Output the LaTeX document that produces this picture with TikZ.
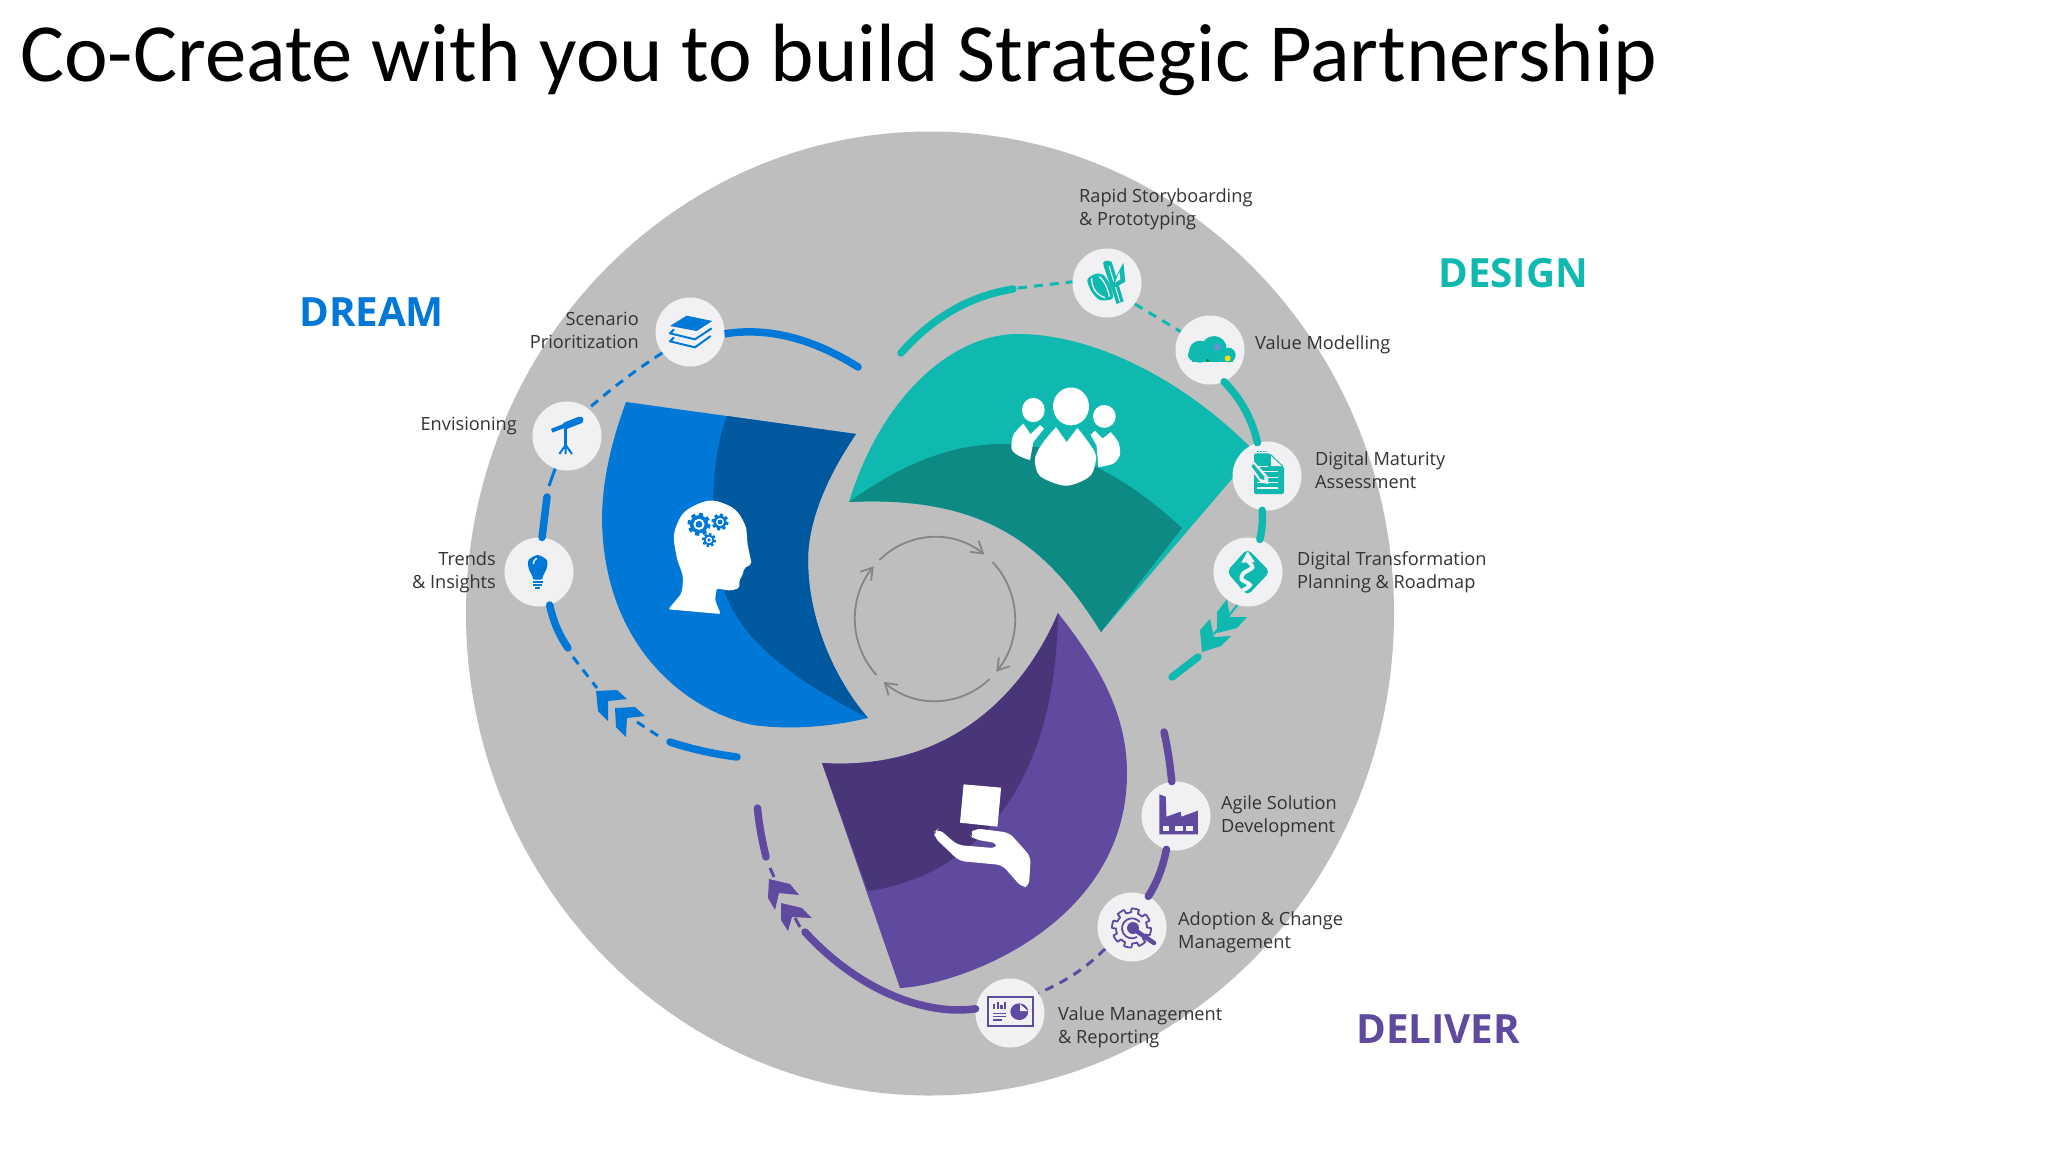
\documentclass[tikz,border=0pt]{standalone}
\usepackage{fontspec}
\setmainfont{Open Sans}
\newfontfamily\titlefont{Carlito}
\definecolor{bggray}{HTML}{BFBEBF}
\definecolor{cblue}{HTML}{0078D7}
\definecolor{dblue}{HTML}{00589F}
\definecolor{cteal}{HTML}{10B9B0}
\definecolor{dteal}{HTML}{0D8A84}
\definecolor{cpurp}{HTML}{5F4A9F}
\definecolor{dpurp}{HTML}{4A3578}
\definecolor{disccol}{HTML}{F1F1F3}
\definecolor{ltext}{HTML}{333333}
\definecolor{ringgray}{HTML}{858585}
\usetikzlibrary{arrows.meta}
\tikzset{
  x=1pt,y=-1pt,
  discnode/.style={circle,fill=disccol,minimum size=69pt,inner sep=0pt},
  lab/.style={text=ltext,font=\fontsize{18.2}{23}\selectfont,inner sep=0pt},
  labl/.style={lab,anchor=west,align=left},
  labr/.style={lab,anchor=east,align=right},
  head/.style={font=\bfseries\fontsize{40.3}{48}\selectfont,inner sep=0pt,anchor=west},
  solidarc/.style={line width=7.5pt,line cap=round},
  dasharc/.style={line width=3pt,dash pattern=on 9pt off 7pt},
  cyc/.style={draw=ringgray,line width=1.8pt,-{Straight Barb[length=11pt,width=14pt,line width=1.8pt]}},
  zb/.style={shift={(500,260)},xscale=0.33333,yscale=0.33333},
  zt/.style={shift={(820,160)},xscale=0.33333,yscale=0.35714},
  zp/.style={shift={(720,600)},xscale=0.35714,yscale=0.33333},
  zr/.style={shift={(1060,230)},xscale=0.33333,yscale=0.33333},
  zd/.style={shift={(1210,430)},xscale=0.33333,yscale=0.33333},
}
\newcommand{\gearshape}[5]{% x y outer inner color
  \fill[#5] plot[domain=0:360,samples=193] ({#1+(#4+(#3-#4)*max(0,sign(sin(8*\x)+0.1)))*cos(\x)},{#2+(#4+(#3-#4)*max(0,sign(sin(8*\x)+0.1)))*sin(\x)}) -- cycle;
  \fill[white] (#1,#2) circle[radius=#4*0.62];
  \fill[#5] (#1,#2) circle[radius=#4*0.38];
}
\begin{document}
\begin{tikzpicture}
\useasboundingbox (0,0) rectangle (2048,1152);
\fill[white] (0,0) rectangle (2048,1152);
\fill[bggray] (930,613.5) ellipse [x radius=464,y radius=482];

% ---- petals
\fill[cblue] (626,402) -- (856,434)
  .. controls (828,475) and (808,520) .. (808,560)
  .. controls (808,620) and (835,680) .. (868,718)
  .. controls (830,727) and (790,730) .. (753,725)
  .. controls (690,712) and (604,650) .. (602,520)
  .. controls (602,480) and (612,440) .. (626,402) -- cycle;
\fill[dblue] (727,416) -- (856,434)
  .. controls (828,475) and (808,520) .. (808,560)
  .. controls (808,620) and (835,680) .. (868,718)
  .. controls (795,680) and (735,640) .. (720,577)
  .. controls (708,520) and (712,455) .. (727,416) -- cycle;
\fill[cteal] (849,502)
  .. controls (880,400) and (950,333) .. (1020,334)
  .. controls (1100,335) and (1190,385) .. (1255,452)
  -- (1101,632)
  .. controls (1050,550) and (990,495) .. (849,502) -- cycle;
\fill[dteal] (849,502)
  .. controls (900,465) and (950,444) .. (1003,444)
  .. controls (1070,444) and (1130,480) .. (1182,528)
  -- (1101,632)
  .. controls (1050,550) and (990,495) .. (849,502) -- cycle;
\fill[cpurp] (822,763) -- (900,988)
  .. controls (960,985) and (1127,925) .. (1127,773)
  .. controls (1127,710) and (1095,660) .. (1058,613)
  .. controls (1030,680) and (960,772) .. (822,763) -- cycle;
\fill[dpurp] (822,763) -- (868,891)
  .. controls (980,875) and (1056,780) .. (1058,613)
  .. controls (1030,680) and (960,772) .. (822,763) -- cycle;

% ---- centre cycle
\coordinate (cc) at (935,619);
\tikzset{cycarc/.style={x radius=80,y radius=82}}
\draw[cyc] (cc) ++(-55.6,-59) arc[start angle=-134,end angle=-52,cycarc];
\draw[cyc] (cc) ++(57.5,-57) arc[start angle=-44,end angle=40,cycarc];
\draw[cyc] (cc) ++(54.6,60) arc[start angle=47,end angle=130,cycarc];
\draw[cyc] (cc) ++(-58.5,56) arc[start angle=137,end angle=220,cycarc];

% ---- discs
\node[discnode] (scen) at (690,332) {};
\node[discnode] (envi) at (567,436) {};
\node[discnode] (tren) at (539,572) {};
\node[discnode] (rapi) at (1107,283) {};
\node[discnode] (valu) at (1210,350) {};
\node[discnode] (digm) at (1267,476) {};
\node[discnode] (digt) at (1248,572) {};
\node[discnode] (agil) at (1176,816) {};
\node[discnode] (adop) at (1132,927) {};
\node[discnode] (vmgt) at (1010,1013) {};

% ---- blue ring
\coordinate (b1) at (858,367);
\coordinate (b4) at (549,486);
\coordinate (b5) at (547,497);
\coordinate (b6) at (568,648);
\coordinate (b7) at (573,657);
\coordinate (b8) at (597,688);
\coordinate (b9) at (637,722);
\coordinate (b10) at (660,737);
\coordinate (b11) at (670,742);
\coordinate (b12) at (737,757);
\draw[cblue,solidarc,line cap=butt] (scen.-3) .. controls (767,327) and (812,338) .. (b1);
\fill[cblue] (b1) circle[radius=3.75];
\draw[cblue,dasharc] (scen.217) .. controls (642,366) and (619,382) .. (envi.52);
\draw[cblue,line width=3pt] (envi.250) -- (b4);
\draw[cblue,solidarc] (b5) -- (tren.85);
\draw[cblue,solidarc] (tren.-72) .. controls (553,621) and (559,635) .. (b6);
\draw[cblue,dasharc] (b7) -- (b8);
\draw[cblue,dasharc] (b9) -- (b10);
\draw[cblue,solidarc] (b11) .. controls (691,749) and (714,754) .. (b12);
\fill[cblue] (596,691) -- (617,690) -- (627,699) -- (608,701) -- (608,721) -- (598,711) -- cycle;
\fill[cblue] (615,708) -- (635,707) -- (645,716) -- (627,718) -- (626,737) -- (616,727) -- cycle;

% ---- teal ring
\coordinate (t1) at (901,353);
\coordinate (t2) at (1013,289);
\coordinate (t3) at (1018,288);
\coordinate (t4) at (1198,657);
\coordinate (t5) at (1172,677);
\coordinate (t6) at (1214,634);
\draw[cteal,solidarc] (t1) .. controls (933,317) and (970,296) .. (t2);
\draw[cteal,dasharc] (t3) -- (rapi.178);
\draw[cteal,dasharc] (rapi.-37) -- (valu.148);
\draw[cteal,solidarc] (valu.-66) .. controls (1241,399) and (1252,419) .. (digm.106);
\draw[cteal,solidarc] (digm.-98) .. controls (1263,520) and (1262,530) .. (digt.70);
\draw[cteal,line width=2pt] (digt.-108) -- (t6);
\fill[cteal] (1200,630) -- (1210,619) -- (1214,637) -- (1231,636) -- (1221,646) -- (1202,652) -- cycle;
\fill[cteal] (1217,612) -- (1227,599) -- (1230,617) -- (1247,617) -- (1237,628) -- (1217,633) -- cycle;
\draw[cteal,solidarc] (t4) -- (t5);

% ---- purple ring
\coordinate (p1) at (1164,732);
\coordinate (p2) at (766,857);
\coordinate (p3) at (757.5,808);
\coordinate (p4) at (770,868);
\coordinate (p5) at (774,877);
\coordinate (p6) at (795,918);
\coordinate (p7) at (800,927);
\coordinate (p8) at (805,932);
\draw[cpurp,solidarc] (p1) .. controls (1168,749) and (1170,765) .. (agil.97);
\draw[cpurp,solidarc] (agil.-106) .. controls (1163,866) and (1158,881) .. (adop.62);
\draw[cpurp,dasharc] (adop.219) .. controls (1087,967) and (1067,981) .. (vmgt.35);
\draw[cpurp,solidarc] (vmgt.173) .. controls (925,1016) and (858,990) .. (p8);
\draw[cpurp,line width=3pt] (p6) -- (p7);
\draw[cpurp,line width=3pt] (p4) -- (p5);
\draw[cpurp,solidarc] (p2) .. controls (762,840) and (759,825) .. (p3);
\fill[cpurp] (769,879) -- (790,884) -- (799,895) -- (779,893) -- (775,910) -- (768,898) -- cycle;
\fill[cpurp] (781,903) -- (802,908) -- (812,918) -- (792,917) -- (788,931) -- (781,920) -- cycle;

% ---- head icon
\begin{scope}[zb]
\fill[white,rounded corners=2pt] (505,1048) -- (545,1000)
  -- plot[smooth] coordinates {(545,1000)(548,950)(530,890)(523,820)(555,755)(630,722)(700,745)(735,795)(742,850)}
  -- (755,912) -- (732,925) -- (728,945) -- (718,960) -- (718,985) -- (690,992) -- (650,985) -- (645,1020) -- (662,1062) -- cycle;
\end{scope}
\gearshape{699}{524.3}{11.5}{9}{cblue}
\gearshape{720}{522}{8.5}{6.5}{cblue}
\gearshape{709}{540}{7}{5.2}{cblue}

% ---- people icon
\begin{scope}[zt]
\fill[white] (640,700) ellipse [x radius=34,y radius=34];
\fill[white] (753,690) ellipse [x radius=54,y radius=53];
\fill[white] (853,718) ellipse [x radius=34,y radius=32];
\fill[white] plot[smooth] coordinates {(610,738)(580,770)(575,810)(600,830)(630,840)} -- (640,790) -- (672,752) -- (660,742) -- (632,768) -- cycle;
\fill[white] plot[smooth] coordinates {(872,762)(895,790)(900,825)(880,850)(835,860)} -- (830,800) -- (812,770) -- (825,758) -- (848,780) -- cycle;
\fill[white] plot[smooth] coordinates {(708,748)(670,790)(645,835)(660,885)(738,912)(810,885)(828,830)(805,790)(772,750)} -- (740,790) -- cycle;
\end{scope}

% ---- hand icon
\begin{scope}[zp]
\fill[white] (682,553) -- (787,563) -- (777,680) -- (672,668) -- cycle;
\fill[white,rounded corners=6pt] (612,686) -- (665,735) -- (775,745) -- (778,730) -- (712,718) -- (698,703) -- (715,685) -- (810,698) -- (870,770) -- (865,860) -- (845,862) -- (790,795) -- (670,783) -- (600,712) -- (600,695) -- cycle;
\end{scope}

% ---- layers icon
\begin{scope}[zb]
\fill[cblue] (560,167) -- (637,183) -- (590,213) -- (510,198) -- cycle;
\draw[cblue,line width=2pt,line join=round] (522,208) -- (510,220) -- (585,238) -- (635,205);
\draw[cblue,line width=2pt,line join=round] (522,232) -- (510,244) -- (585,262) -- (632,228);
% telescope
\draw[cblue,line width=4pt] (155,512) -- (200,495);
\draw[cblue,line width=7pt,line cap=round] (197,497) -- (240,480);
\draw[cblue,line width=3.5pt] (197,505) -- (197,560);
\draw[cblue,line width=2pt] (197,555) -- (178,582) (197,555) -- (216,582) (197,555) -- (197,582);
% bulb
\fill[cblue] plot[smooth cycle] coordinates {(113,885)(140,900)(140,925)(128,950)(126,958)(100,958)(98,950)(86,925)(86,900)};
\draw[disccol,line width=1.5pt] (100,912) to[bend left=30] (110,895);
\draw[cblue,line width=2pt] (98,965) -- (128,965) (100,974) -- (126,974) (105,984) -- (121,984);
\end{scope}

% ---- rapid + cloud
\begin{scope}[zr]
\fill[cteal] plot[smooth cycle] coordinates {(82,150)(105,132)(130,135)(150,165)(158,205)(120,210)(95,185)};
\draw[disccol,line width=1.3pt] (95,145) .. controls (95,175) and (110,195) .. (135,203);
\draw[disccol,line width=1.3pt] (118,140) .. controls (135,155) and (145,180) .. (148,200);
\fill[cteal] (130,105) -- (155,95) -- (191,214) -- (170,222) -- cycle;
\draw[disccol,line width=1pt] (147,108) -- (180,216);
\fill[cteal] (190,98) -- (196,155) -- (155,178) -- (158,160) -- cycle;
\fill[disccol] (178,125) -- (181,148) -- (165,158) -- cycle;
\fill[cteal] (142,100) ellipse [x radius=13,y radius=8];
\fill[cteal] (420,365) circle[radius=33];
\fill[cteal] (462,356) circle[radius=38];
\fill[cteal] (505,375) circle[radius=22];
\fill[cteal] (402,375) circle[radius=18];
\fill[cteal] (395,375) rectangle (520,396);
\fill[yellow!80!orange] (503,385) circle[radius=9];
\fill[green!45!black!80!cteal] (442,391) circle[radius=5];
\fill[cyan!40!blue!60!white] (472,352) circle[radius=10];
\end{scope}

% ---- doc + road
\begin{scope}[zd]
\fill[cteal,rounded corners=2pt] (132,70) -- (180,70) -- (222,110) -- (222,192) -- (132,192) -- cycle;
\fill[disccol] (183,78) -- (183,108) -- (215,108) -- cycle;
\draw[cteal,line width=1pt,dash pattern=on 1.5pt off 1.5pt] (142,65) -- (172,65);
\draw[disccol,line width=1.3pt] (142,110) -- (175,110) (142,125) -- (205,125) (142,142) -- (205,142) (142,158) -- (205,158) (142,174) -- (205,174);
\fill[disccol] (108,100) -- (123,85) -- (174,140) -- (174,162) -- (150,155) -- cycle;
\fill[cteal] (124,108) -- (130,102) -- (163,140) -- (163,150) -- (152,147) -- cycle;
\fill[cteal,rounded corners=5pt] (112,356) -- (180,425) -- (112,497) -- (50,425) -- cycle;
\fill[disccol] (113,364) -- (134,396) -- (94,398) -- cycle;
\draw[disccol,line width=4pt,line cap=round] plot[smooth] coordinates {(113,392)(127,412)(100,430)(95,448)(120,465)(100,480)};
\end{scope}

% ---- purple icons
\begin{scope}[zp]
\fill[cpurp] (1230,583) -- (1248,590) -- (1250,650) -- (1290,635) -- (1292,650) -- (1338,632) -- (1338,703) -- (1230,703) -- cycle;
\fill[disccol] (1240,678) rectangle (1258,693);
\fill[disccol] (1275,678) rectangle (1295,693);
\fill[disccol] (1305,678) rectangle (1325,693);
% dashboard
\draw[cpurp,line width=2pt] (750,1190) rectangle (877,1277);
\fill[cpurp] (838,1235) ellipse [x radius=25,y radius=25];
\fill[cpurp] (765,1212) rectangle (771,1227);
\fill[cpurp] (775,1205) rectangle (781,1227);
\fill[cpurp] (785,1215) rectangle (791,1227);
\fill[cpurp] (795,1205) rectangle (801,1227);
\draw[cpurp,line width=1.6pt] (765,1240) -- (800,1240) (765,1250) -- (800,1250) (765,1260) -- (790,1260);
\fill[disccol] (840,1233) -- (840,1212) -- (862,1233) -- cycle;
\end{scope}
\draw[cpurp,line width=1.8pt,line join=round] plot[domain=0:360,samples=193] ({1131.5+(15.5+4*max(0,sign(sin(8*\x)+0.1)))*cos(\x)},{928+(15.5+4*max(0,sign(sin(8*\x)+0.1)))*sin(\x)}) -- cycle;
\draw[cpurp,line width=1.8pt] (1137,937) arc[start angle=60,end angle=320,radius=10];
\draw[cpurp,line width=4.5pt,line cap=round] (1132,928) -- (1154,943);
\fill[cpurp] (1133,928) circle[radius=6];

% ---- labels
\node[labr] (lscen) at (639,330) {Scenario\\Prioritization};
\node[labr] (lenvi) at (517,426) {Envisioning};
\node[labr] (ltren) at (496,572) {Trends\\\& Insights};
\node[labl] (lrapi) at (1079,209) {Rapid Storyboarding\\\& Prototyping};
\node[labl] (lvalu) at (1255,345) {Value Modelling};
\node[labl] (ldigm) at (1315,470) {Digital Maturity\\Assessment};
\node[labl] (ldigt) at (1297,572) {Digital Transformation\\Planning \& Roadmap};
\node[labl] (lagil) at (1221,816) {Agile Solution\\Development};
\node[labl] (ladop) at (1178,932) {Adoption \& Change\\Management};
\node[labl] (lvmgt) at (1058,1027) {Value Management\\\& Reporting};

\node[head,text=cblue] (hdream) at (299,312) {DREAM};
\node[head,text=cteal] (hdesign) at (1438,273) {DESIGN};
\node[head,text=cpurp] (hdeliver) at (1356,1029) {DELIVER};

\node[anchor=west,inner sep=0pt,font=\titlefont\fontsize{82.7}{95}\selectfont] (title) at (20,60) {Co-Create with you to build Strategic Partnership};
\end{tikzpicture}
\end{document}
